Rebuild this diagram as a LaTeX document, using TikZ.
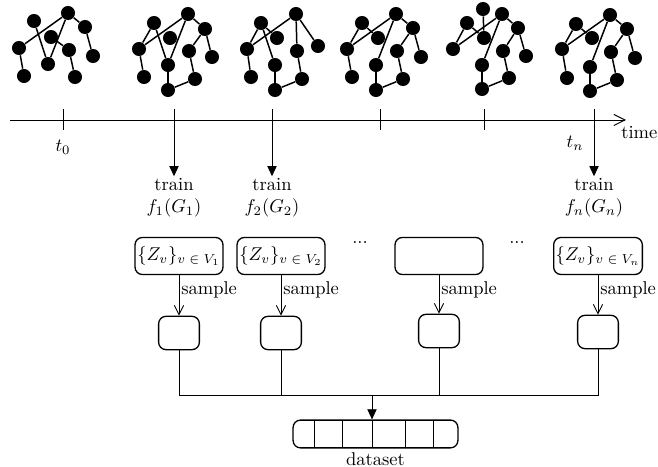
\documentclass[tikz,border=0pt]{standalone}
\usetikzlibrary{arrows.meta}
\begin{document}
\begin{tikzpicture}[x=0.54pt,y=-0.54pt,
  gn/.style={circle,fill=black,inner sep=0pt,minimum size=7.6pt},
  ge/.style={line width=0.8pt},
  ln/.style={line width=0.5pt},
  tickln/.style={line width=0.5pt},
  zbox/.style={draw,rounded corners=4pt,line width=0.7pt,minimum width=47.5pt,minimum height=20pt,inner sep=1pt},
  sbox/.style={draw,rounded corners=4pt,line width=0.7pt,minimum width=22pt,minimum height=18pt,inner sep=0pt},
  trainarr/.style={ln,-{Triangle[length=5.5pt,width=5pt]}},
  samplearr/.style={ln,-{Straight Barb[length=5pt,width=5pt]}},
  lbl/.style={inner sep=1pt}
]
\useasboundingbox (0,0) rectangle (658,467);

% ---- graph snapshots ----
\foreach \n/\x/\y in {a/68/13,b/34/21,c/51/37,d/85/27,e/19/48,f/69/50,g/93/56,h/48/64,i/24/76,j/75/77}
  \node[gn] (g1\n) at (\x,\y) {};
\foreach \u/\v in {e/a,b/h,h/a,c/f,a/d,d/g,e/i,f/j}
  \draw[ge] (g1\u) -- (g1\v);

\foreach \n/\x/\y in {a/188/14,b/154/23,c/170/38,d/205/29,e/139/49,f/189/51,g/212/57,h/168/65,i/144/77,j/195/79,k/168/90}
  \node[gn] (g2\n) at (\x,\y) {};
\foreach \u/\v in {e/a,e/b,b/h,h/a,a/d,d/f,d/g,f/j,j/k,k/h,e/i}
  \draw[ge] (g2\u) -- (g2\v);

\foreach \n/\x/\y in {a/296/14,b/261/23,c/277/38,e/247/49,f/297/51,g/318/46,h/275/65,i/251/77,j/302/79,k/275/90}
  \node[gn] (g3\n) at (\x,\y) {};
\foreach \u/\v in {e/b,e/a,b/h,b/c,a/f,a/g,f/j,j/k,k/h,e/i}
  \draw[ge] (g3\u) -- (g3\v);

\foreach \n/\x/\y in {a/396/14,b/362/23,c/378/38,d/413/28,e/347/49,f/397/51,g/421/57,h/376/65,i/352/77,j/403/79,k/376/90}
  \node[gn] (g4\n) at (\x,\y) {};
\foreach \u/\v in {e/b,e/a,b/c,a/h,a/d,d/f,d/g,f/j,j/k,k/h,e/i}
  \draw[ge] (g4\u) -- (g4\v);

\foreach \n/\x/\y in {t/483/9,a/502/14,b/467/23,c/484/38,d/518/28,e/453/49,f/503/51,g/526/56,h/482/65,j/509/78,k/482/89}
  \node[gn] (g5\n) at (\x,\y) {};
\foreach \u/\v in {t/c,b/c,b/e,e/a,a/h,a/d,d/f,f/j,j/k,k/h,d/g}
  \draw[ge] (g5\u) -- (g5\v);

\foreach \n/\x/\y in {a/610/15,b/576/24,c/592/38,d/627/29,e/562/49,f/611/52,g/635/58,h/590/67,i/567/78,j/617/80,k/590/91}
  \node[gn] (g6\n) at (\x,\y) {};
\foreach \u/\v in {e/b,e/a,b/c,a/h,a/d,d/f,d/g,f/j,j/k,k/h,e/i}
  \draw[ge] (g6\u) -- (g6\v);

% ---- timeline ----
\coordinate (tstart) at (10,120);
\coordinate (tend) at (626,120);
\draw[ln,-{Straight Barb[length=6pt,width=6pt]}] (tstart) -- (tend);
\node[inner sep=0pt,anchor=west] (time) at (621,133) {time};
\foreach \x in {63,380,484} \draw[tickln] (\x,109) -- (\x,130);
\node (t0) at (63,147) {$t_0$};
\node (tn) at (575,143) {$t_n$};

% ---- training ----
\node[lbl,align=center] (tr1) at (174,198) {train\\$f_1(G_1)$};
\node[lbl,align=center] (tr2) at (272,198) {train\\$f_2(G_2)$};
\node[lbl,align=center] (trn) at (594,198) {train\\$f_n(G_n)$};
\coordinate (a1) at (174,109);
\coordinate (a2) at (272,109);
\coordinate (an) at (594,109);
\draw[trainarr] (a1) -- (a1 |- tr1.north);
\draw[trainarr] (a2) -- (a2 |- tr2.north);
\draw[trainarr] (an) -- (an |- trn.north);

% ---- embeddings ----
\node[zbox] (z1) at (179,256) {$\{Z_v\}_{v\;\in\;V_1}$};
\node[zbox] (z2) at (281,256) {$\{Z_v\}_{v\;\in\;V_2}$};
\node[zbox] (z3) at (439,256) {};
\node[zbox] (zn) at (598,256) {$\{Z_v\}_{v\;\in\;V_n}$};
\node (dots1) at (360,243) {...};
\node (dots2) at (517,243) {...};

\node[sbox] (s1) at (179,333) {};
\node[sbox] (s2) at (281,333) {};
\node[sbox] (s3) at (439,331) {};
\node[sbox] (sn) at (598,332) {};

\draw[samplearr] (z1) -- node[right,lbl,pos=0.37] {sample} (s1);
\draw[samplearr] (z2) -- node[right,lbl,pos=0.37] {sample} (s2);
\draw[samplearr] (z3) -- node[right,lbl,pos=0.37] {sample} (s3);
\draw[samplearr] (zn) -- node[right,lbl,pos=0.37] {sample} (sn);

% ---- collection ----
\node[draw,rounded corners=4pt,line width=0.7pt,minimum width=89pt,minimum height=15pt,inner sep=0pt] (ds) at (375.5,434) {};
\foreach \x in {314,342,372,405,433} \draw[ln] (\x,420.1) -- (\x,447.9);
\node[lbl,anchor=north] (dsl) at ([yshift=-1pt]ds.south) {dataset};

\coordinate (bus) at (0,395);
\coordinate (join) at (372,395);
\draw[ln] (s1.south) -- (s1.south |- bus) -- (sn.south |- bus) -- (sn.south);
\draw[ln] (s2.south) -- (s2.south |- bus);
\draw[ln] (s3.south) -- (s3.south |- bus);
\draw[trainarr] (join) -- (join |- ds.north);
\end{tikzpicture}
\end{document}
